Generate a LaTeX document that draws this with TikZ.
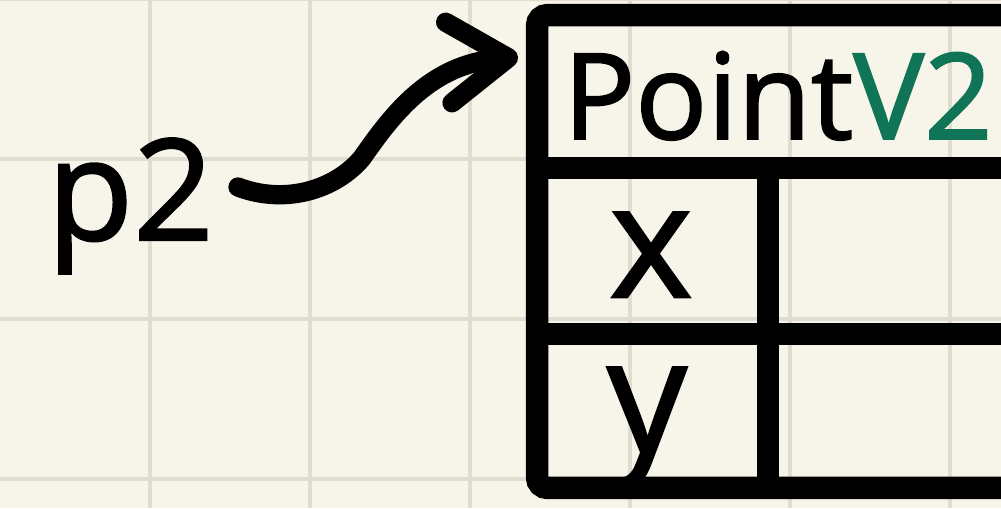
\documentclass[tikz,border=0pt]{standalone}
\usepackage{fontspec}
\setmainfont{Open Sans}[FakeBold=1.6,AutoFakeBold=1.6]
\usetikzlibrary{arrows.meta,calc}
\definecolor{paper}{RGB}{247,245,233}
\definecolor{gridgray}{RGB}{224,221,208}
\definecolor{classgreen}{RGB}{16,116,86}
\definecolor{ink}{RGB}{0,0,0}
\tikzset{
	gridline/.style={draw=gridgray,line width=2.6pt},
	frame/.style={draw=ink,line width=12.8pt,rounded corners=6pt,inner sep=0pt,outer sep=0pt},
	rule/.style={draw=ink,line width=13pt},
	pointer/.style={draw=ink,line width=11pt,line cap=round,
		-{Straight Barb[round,length=34pt,width=46pt]}},
	bigtext/.style={inner sep=0pt,text=ink,font=\bfseries\fontsize{80}{80}\selectfont},
	titletext/.style={inner sep=0pt,text=ink,font=\bfseries\fontsize{68}{68}\selectfont},
	fieldtext/.style={inner sep=0pt,text=ink,font=\bfseries\fontsize{90}{90}\selectfont},
}
\begin{document}
\begin{tikzpicture}[x=0.02cm,y=-0.02cm]
	\useasboundingbox (0,0) rectangle (1001,508);
	\clip (0,0) rectangle (1001,508);
	\fill[paper] (0,0) rectangle (1001,508);
	% squared paper
	\foreach \gx in {150,310,...,950}
		\draw[gridline] (\gx,0) -- (\gx,508);
	\foreach \gy in {-1,159,319,479}
		\draw[gridline] (0,\gy) -- (1001,\gy);
	
	% variable
	\node[bigtext,anchor=base east] (p2) at (214,240) {p2};
	
	% object box
	\node[frame,minimum width=9.86cm,minimum height=9.46cm] (pointv2) at (783.5,251.5) {};
	\draw[rule] ($(pointv2.north west)+(0,153)$) -- ($(pointv2.north east)+(0,153)$);
	\draw[rule] ($(pointv2.north west)+(0,319)$) -- ($(pointv2.north east)+(0,319)$);
	\draw[rule] ($(pointv2.north west)+(231,153)$) -- ($(pointv2.south west)+(231,0)$);
	\node[titletext,anchor=base west] (title) at (563,139)
	{Point\textcolor{classgreen}{V2}};
	\node[fieldtext,anchor=base] (fx) at (651,297) {x};
	\node[fieldtext,anchor=base] (fy) at (647,452) {y};
	
	\draw[pointer] ([shift={(24,-53)}]p2.base east)
	.. controls (285,205) and (335,190) .. (362,158)
	.. controls (392,115) and (430,64) .. ($(pointv2.north west)+(-19,42)$);
\end{tikzpicture}
\end{document}
